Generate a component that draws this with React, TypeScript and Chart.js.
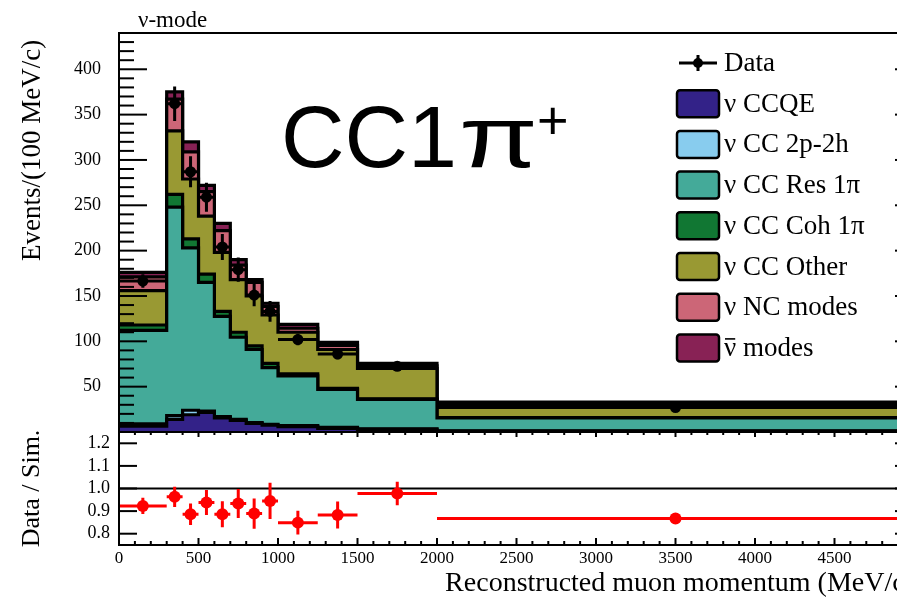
import React, { useEffect, useRef } from 'react';
import { Chart, registerables } from 'chart.js';

Chart.register(...registerables);

// ---------- data ----------
const binEdges = [0, 300, 400, 500, 600, 700, 800, 900, 1000, 1250, 1500, 2000, 5000];
const binCenters = [150, 350, 450, 550, 650, 750, 850, 950, 1125, 1375, 1750, 3500];

const seriesLabels = ['ν CCQE', 'ν CC 2p-2h', 'ν CC Res 1π', 'ν CC Coh 1π', 'ν CC Other', 'ν NC modes', 'ν̄ modes'];
const seriesColors = ['#332288', '#88CCEE', '#44AA99', '#117733', '#999933', '#CC6677', '#882255'];

const ccqe = [6.5, 14, 19, 21.5, 15.5, 12.8, 9.5, 7.5, 6, 4, 3, 1];
const cc2p2h = [2.5, 4, 5, 1.5, 1.5, 1.2, 1, 1, 1, 1, 0.5, 0.3];
const ccRes1pi = [103, 230, 179, 142, 110.5, 90.5, 80.5, 62.5, 55, 42, 32.5, 14.2];
const ccCoh1pi = [6, 14, 10, 9, 5.5, 5.5, 4, 4.7, 2, 1, 0.5, 0.3];
const ccOther = [38, 70, 66, 64, 65, 58, 55, 53.3, 46, 43, 33.5, 13.2];
const ncModes = [15, 35, 30, 27, 24, 16, 15, 9.6, 4.4, 4.6, 3, 2];
const antiNuModes = [5, 8, 11, 7, 8, 6, 3, 3.4, 4.3, 3.2, 2.6, 2];

const dataValues = [166.5, 362, 287, 259, 204, 179, 151, 133, 102, 86, 72.5, 27];
const dataErrors = [7.4, 19, 17, 16, 14.3, 13.4, 12.3, 11.5, 6.4, 5.9, 3.8, 0.95];

const ratioValues = [0.923, 0.963, 0.886, 0.938, 0.886, 0.934, 0.889, 0.945, 0.849, 0.883, 0.978, 0.867];
const ratioErrors = [0.036, 0.045, 0.048, 0.055, 0.058, 0.064, 0.067, 0.08, 0.052, 0.06, 0.052, 0.01];

const yTicksTop = [50, 100, 150, 200, 250, 300, 350, 400];
const yTicksRatio = [0.8, 0.9, 1.0, 1.1, 1.2];
const xTicks = [0, 500, 1000, 1500, 2000, 2500, 3000, 3500, 4000, 4500, 5000];

const components = [ccqe, cc2p2h, ccRes1pi, ccCoh1pi, ccOther, ncModes, antiNuModes];

// ---------- helpers ----------
const SERIF = "'Liberation Serif', 'Times New Roman', serif";
const SANS = "'Liberation Sans', Arial, sans-serif";

function cumulative(): number[][] {
  const out: number[][] = [];
  components.forEach((arr, k) => {
    out.push(arr.map((v, i) => v + (k > 0 ? out[k - 1][i] : 0)));
  });
  return out;
}

function stepPoints(tops: number[]) {
  const n = tops.length;
  return binEdges.map((e, i) => ({ x: e, y: tops[Math.min(i, n - 1)] }));
}

function errorSegments(vals: number[], errs: number[]) {
  const pts: { x: number; y: number | null }[] = [];
  vals.forEach((v, i) => {
    const lo = binEdges[i];
    const hi = binEdges[i + 1];
    const c = binCenters[i];
    pts.push({ x: lo, y: v }, { x: hi, y: v }, { x: c, y: null });
    pts.push({ x: c, y: v - errs[i] }, { x: c, y: v + errs[i] }, { x: c, y: null });
  });
  return pts;
}

const noPad = (s: any) => {
  s.paddingTop = 0;
  s.paddingBottom = 0;
  s.paddingLeft = 0;
  s.paddingRight = 0;
};

const axisFramePlugin = {
  id: 'axisFrame',
  afterDatasetsDraw(chart: any, _args: any, opts: any) {
    const { ctx, chartArea: a, scales } = chart;
    const xs = scales.x;
    const ys = scales.y;
    ctx.save();
    ctx.strokeStyle = '#000';
    ctx.lineWidth = 2;
    ctx.lineCap = 'butt';
    const line = (x1: number, y1: number, x2: number, y2: number) => {
      ctx.beginPath();
      ctx.moveTo(x1, y1);
      ctx.lineTo(x2, y2);
      ctx.stroke();
    };
    ctx.strokeRect(a.left, a.top, a.right - a.left, a.bottom - a.top);
    const yn0 = Math.ceil(ys.min / opts.yMinorStep - 1e-6);
    const yn1 = Math.floor(ys.max / opts.yMinorStep + 1e-6);
    for (let n = yn0; n <= yn1; n++) {
      const v = n * opts.yMinorStep;
      const r = v / opts.yMajorStep;
      const major = Math.abs(r - Math.round(r)) < 1e-6;
      const p = ys.getPixelForValue(v);
      const l = major ? opts.yLeftMajor : opts.yLeftMinor;
      const rr = major ? opts.yRightMajor : opts.yRightMinor;
      if (l) line(a.left, p, a.left + l, p);
      if (rr) line(a.right, p, a.right - rr, p);
    }
    if (opts.xMinorStep) {
      const xn0 = Math.ceil(xs.min / opts.xMinorStep - 1e-6);
      const xn1 = Math.floor(xs.max / opts.xMinorStep + 1e-6);
      for (let n = xn0; n <= xn1; n++) {
        const v = n * opts.xMinorStep;
        const r = v / opts.xMajorStep;
        const major = Math.abs(r - Math.round(r)) < 1e-6;
        const p = xs.getPixelForValue(v);
        const b = major ? opts.xBottomMajor : opts.xBottomMinor;
        const t = major ? opts.xTopMajor : opts.xTopMinor;
        if (b) line(p, a.bottom, p, a.bottom - b);
        if (t) line(p, a.top, p, a.top + t);
      }
    }
    ctx.restore();
  },
};

const overlayPlugin = {
  id: 'overlay',
  afterDraw(chart: any) {
    const { ctx } = chart;
    ctx.save();
    ctx.fillStyle = '#000';
    ctx.textBaseline = 'alphabetic';
    ctx.textAlign = 'left';
    ctx.font = `23px ${SERIF}`;
    ctx.fillText('ν-mode', 138, 27);

    // big annotation
    ctx.font = `88px ${SANS}`;
    ctx.fillText('CC1', 281, 167);
    const w = ctx.measureText('CC1').width;
    ctx.save();
    ctx.translate(281 + w + 2, 167);
    ctx.scale(1.3, 1);
    ctx.fillText('π', 0, 0);
    ctx.restore();
    ctx.font = `54px ${SANS}`;
    ctx.fillText('+', 537, 139);

    // legend
    const boxX = 677;
    const boxW = 42;
    const boxH = 27;
    const textX = 724;
    const y0 = 63;
    const step = 40.7;
    ctx.font = `27px ${SERIF}`;
    ctx.textBaseline = 'middle';
    ctx.strokeStyle = '#000';
    ctx.lineWidth = 3;
    ctx.beginPath();
    ctx.moveTo(boxX + 2, y0);
    ctx.lineTo(boxX + boxW - 2, y0);
    ctx.moveTo(boxX + boxW / 2, y0 - 8);
    ctx.lineTo(boxX + boxW / 2, y0 + 8);
    ctx.stroke();
    ctx.beginPath();
    ctx.arc(boxX + boxW / 2, y0, 5, 0, Math.PI * 2);
    ctx.fill();
    ctx.fillText('Data', textX, y0 + 1);
    seriesLabels.forEach((lab, i) => {
      const cy = y0 + step * (i + 1);
      ctx.fillStyle = seriesColors[i];
      ctx.beginPath();
      (ctx as any).roundRect(boxX, cy - boxH / 2, boxW, boxH, 3);
      ctx.fill();
      ctx.lineWidth = 2.5;
      ctx.strokeStyle = '#000';
      ctx.stroke();
      ctx.fillStyle = '#000';
      if (lab.includes('\u0304')) {
        const base = lab.replace('\u0304', '');
        const nu = base.charAt(0);
        const rest = base.slice(1);
        ctx.fillText(nu, textX, cy + 1);
        const nw = ctx.measureText(nu).width;
        ctx.lineWidth = 1.6;
        ctx.beginPath();
        ctx.moveTo(textX + 1, cy - 9);
        ctx.lineTo(textX + nw - 1, cy - 9);
        ctx.stroke();
        ctx.fillText(rest, textX + nw, cy + 1);
      } else {
        ctx.fillText(lab, textX, cy + 1);
      }
    });
    ctx.restore();
  },
};

export default function App() {
  const topRef = useRef<HTMLCanvasElement>(null);
  const botRef = useRef<HTMLCanvasElement>(null);

  useEffect(() => {
    const cum = cumulative();
    const stackSets = cum.map((tops, k) => ({
      type: 'line' as const,
      label: seriesLabels[k],
      data: stepPoints(tops),
      stepped: 'before' as const,
      borderColor: '#000',
      borderWidth: 3.2,
      borderJoinStyle: 'miter' as const,
      backgroundColor: seriesColors[k],
      fill: k === 0 ? 'origin' : '-1',
      pointRadius: 0,
      order: 5,
    }));

    const topChart = new Chart(topRef.current!, {
      type: 'line',
      data: {
        datasets: [
          ...stackSets,
          {
            type: 'line',
            label: 'Data errors',
            data: errorSegments(dataValues, dataErrors),
            borderColor: '#000',
            borderWidth: 3,
            pointRadius: 0,
            fill: false,
            spanGaps: false,
            order: -1,
          },
          {
            type: 'line',
            label: 'Data',
            data: binCenters.map((c, i) => ({ x: c, y: dataValues[i] })),
            showLine: false,
            pointRadius: 5.5,
            pointBackgroundColor: '#000',
            pointBorderWidth: 0,
            fill: false,
            order: -2,
          },
        ] as any,
      },
      options: {
        animation: false,
        responsive: false,
        devicePixelRatio: 1,
        layout: { autoPadding: false, padding: { left: 0, right: 86, top: 33, bottom: 8 } },
        plugins: {
          legend: { display: false },
          tooltip: { enabled: false },
          axisFrame: {
            yMinorStep: 10,
            yMajorStep: 50,
            yLeftMajor: 28,
            yLeftMinor: 15,
            yRightMajor: 19,
            yRightMinor: 10,
          },
        } as any,
        scales: {
          x: { type: 'linear', min: 0, max: 5000, display: false },
          y: {
            type: 'linear',
            min: 0,
            max: 440,
            grid: { display: false, drawTicks: false },
            border: { display: false },
            afterBuildTicks: (s: any) => {
              s.ticks = yTicksTop.map((v) => ({ value: v }));
            },
            afterFit: (s: any) => {
              s.width = 119;
              noPad(s);
            },
            ticks: {
              color: '#000',
              padding: 18,
              font: { family: SERIF, size: 18 },
            },
            title: {
              display: true,
              text: 'Events/(100 MeV/c) ',
              align: 'end',
              color: '#000',
              font: { family: SERIF, size: 27, lineHeight: 1 },
              padding: { top: 19, bottom: 0 },
            },
          },
        },
      },
      plugins: [axisFramePlugin, overlayPlugin],
    });

    const botChart = new Chart(botRef.current!, {
      type: 'line',
      data: {
        datasets: [
          {
            type: 'line',
            label: 'unity',
            data: [
              { x: 0, y: 1 },
              { x: 5000, y: 1 },
            ],
            borderColor: '#000',
            borderWidth: 2,
            pointRadius: 0,
            fill: false,
            order: 2,
          },
          {
            type: 'line',
            label: 'Ratio errors',
            data: errorSegments(ratioValues, ratioErrors),
            borderColor: '#ff0000',
            borderWidth: 3,
            pointRadius: 0,
            fill: false,
            spanGaps: false,
            order: 1,
          },
          {
            type: 'line',
            label: 'Data / Sim.',
            data: binCenters.map((c, i) => ({ x: c, y: ratioValues[i] })),
            showLine: false,
            pointRadius: 6,
            pointBackgroundColor: '#ff0000',
            pointBorderWidth: 0,
            fill: false,
            order: 0,
          },
        ] as any,
      },
      options: {
        animation: false,
        responsive: false,
        devicePixelRatio: 1,
        layout: { autoPadding: false, padding: { left: 0, right: 86, top: 12, bottom: 0 } },
        plugins: {
          legend: { display: false },
          tooltip: { enabled: false },
          axisFrame: {
            yMinorStep: 0.1,
            yMajorStep: 0.1,
            yLeftMajor: 18,
            yLeftMinor: 0,
            yRightMajor: 19,
            yRightMinor: 0,
            xMinorStep: 100,
            xMajorStep: 500,
            xBottomMajor: 7,
            xBottomMinor: 4,
            xTopMajor: 5,
            xTopMinor: 3,
          },
        } as any,
        scales: {
          x: {
            type: 'linear',
            min: 0,
            max: 5000,
            grid: { display: false, drawTicks: false },
            border: { display: false },
            afterBuildTicks: (s: any) => {
              s.ticks = xTicks.map((v) => ({ value: v }));
            },
            afterFit: (s: any) => {
              s.height = 56;
              noPad(s);
            },
            ticks: {
              color: '#000',
              padding: 3,
              autoSkip: false,
              maxRotation: 0,
              font: { family: SERIF, size: 17 },
              callback: (v: any) => String(v),
            },
            title: {
              display: true,
              text: 'Reconstructed muon momentum (MeV/c)',
              align: 'end',
              color: '#000',
              font: { family: SERIF, size: 28, lineHeight: 1 },
              padding: { top: 0, bottom: 3 },
            },
          },
          y: {
            type: 'linear',
            min: 0.75,
            max: 1.25,
            grid: { display: false, drawTicks: false },
            border: { display: false },
            afterBuildTicks: (s: any) => {
              s.ticks = yTicksRatio.map((v) => ({ value: v }));
            },
            afterFit: (s: any) => {
              s.width = 119;
              noPad(s);
            },
            ticks: {
              color: '#000',
              padding: 9,
              font: { family: SERIF, size: 18 },
              callback: (v: any) => Number(v).toFixed(1),
            },
            title: {
              display: true,
              text: 'Data / Sim.',
              color: '#000',
              font: { family: SERIF, size: 26, lineHeight: 1 },
              padding: { top: 19, bottom: 0 },
            },
          },
        },
      },
      plugins: [axisFramePlugin],
    });

    return () => {
      topChart.destroy();
      botChart.destroy();
    };
  }, []);

  return (
    <div
      style={{
        position: 'absolute',
        left: 0,
        top: 0,
        width: 897,
        height: 601,
        overflow: 'hidden',
        background: '#fff',
      }}
    >
      <canvas
        ref={topRef}
        width={1000}
        height={440}
        style={{ position: 'absolute', left: 0, top: 0, width: 1000, height: 440 }}
      />
      <canvas
        ref={botRef}
        width={1000}
        height={181}
        style={{ position: 'absolute', left: 0, top: 420, width: 1000, height: 181 }}
      />
    </div>
  );
}
